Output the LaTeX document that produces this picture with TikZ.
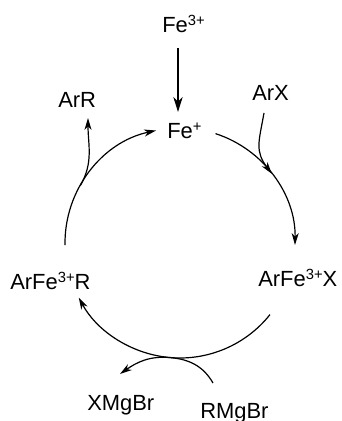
\documentclass[tikz,border=0pt]{standalone}
\usepackage{fontspec}
\setsansfont{Liberation Sans}
\usetikzlibrary{positioning, arrows.meta, calc}
\definecolor{clrline}{HTML}{000000}
\definecolor{clrtext}{HTML}{000000}
\newcommand{\chg}[1]{\raisebox{0.33em}{\fontsize{10.5}{12}\selectfont #1}}

\begin{document}
\begin{tikzpicture}[
    >={Stealth[length=8.5pt, width=5pt, inset=2.5pt]},
    every node/.style={font=\sffamily\fontsize{15.6}{18}\selectfont, text=clrtext, inner sep=0pt},
    species/.style={anchor=base west},
    arrow/.style={->, color=clrline, line width=0.85pt},
    feedarrow/.style={-{Stealth[length=10.5pt, width=6.5pt, inset=3pt]}, color=clrline, line width=1.4pt},
]
\useasboundingbox (0,0) rectangle (8.55,10.525);
\def\rad{2.875}
\coordinate (c) at (4.5,4.45);
% species
\node[species] (n_1) at (4.05,9.7) {Fe\chg{3+}};
\node[species] (n_2) at (4.175,7.05) {Fe\chg{+}};
\node[species] (n_3) at (6.3,8.025) {ArX};
\node[species] (n_4) at (6.45,3.35) {ArFe\chg{3+}X};
\node[species] (n_5) at (5.0,0.075) {RMgBr};
\node[species] (n_6) at (2.175,0.275) {XMgBr};
\node[species] (n_7) at (0.25,3.275) {ArFe\chg{3+}R};
\node[species] (n_8) at (1.45,7.825) {ArR};
% catalytic cycle
\coordinate (a_1) at ($(c)+(181:\rad)$);
\coordinate (a_2) at ($(c)+(72:\rad)$);
\coordinate (a_3) at ($(c)+(-38.5:\rad)$);
\draw[arrow] (a_1) arc[start angle=181, end angle=102, radius=\rad];
\draw[arrow] (a_2) arc[start angle=72, end angle=-1, radius=\rad];
\draw[arrow] (a_3) arc[start angle=-38.5, end angle=-151.7, radius=\rad];
\coordinate (f_1) at (4.45,9.325);
\coordinate (f_2) at (4.45,7.725);
\draw[feedarrow] (f_1) -- (f_2);
% side branches
\coordinate (b_1) at ($(c)+(150:\rad)$);
\coordinate (b_2) at ($(c)+(37:\rad)$);
\coordinate (b_3) at ($(c)+(-95:\rad)$);
\coordinate (t_1) at (2.2,7.575);
\coordinate (t_2) at (6.6,7.7);
\coordinate (t_3) at (3.0,1.175);
\coordinate (t_4) at (5.325,0.95);
\draw[arrow] (b_1) to[out=60, in=-90] (t_1);
\draw[arrow] (t_2) to[out=-100, in=127, looseness=1.2] (b_2);
\draw[arrow] (t_4) to[out=120, in=-5] (b_3) to[out=175, in=35] (t_3);
\end{tikzpicture}
\end{document}
